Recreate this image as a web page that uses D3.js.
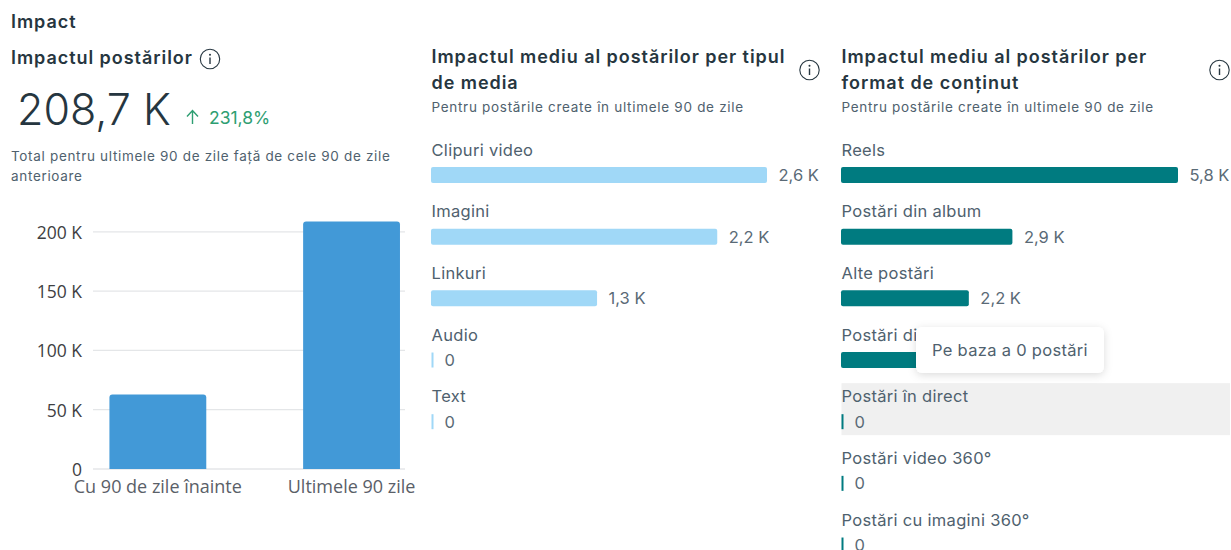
<!DOCTYPE html>
<html><head><meta charset="utf-8">
<script src="https://cdnjs.cloudflare.com/ajax/libs/d3/7.8.5/d3.min.js"></script>
<style>
html,body{margin:0;padding:0;background:#fff;overflow:hidden}
svg{display:block}
.t{font-family:Inter,"Noto Sans",sans-serif}
.o{font-family:"Open Sans","Noto Sans",sans-serif}
</style></head><body><svg id="c" width="1231" height="550"></svg>
<script>
const periodCats=["Cu 90 de zile înainte","Ultimele 90 zile"];
const periodVals=[62900,208700];
const yTicks=[0,50000,100000,150000,200000];
const yTickLabels=["0","50 K","100 K","150 K","200 K"];
const mediaCats=["Clipuri video","Imagini","Linkuri","Audio","Text"];
const mediaVals=[2600,2215,1285,0,0];
const mediaLabels=["2,6 K","2,2 K","1,3 K","0","0"];
const formatCats=["Reels","Postări din album","Alte postări","Postări din","Postări în direct","Postări video 360°","Postări cu imagini 360°"];
const formatVals=[5800,2950,2200,1500,0,0,0];
const formatLabels=["5,8 K","2,9 K","2,2 K",null,"0","0","0"];

const svg=d3.select("#c");
const ink="#263640", soft="#4f616e";
function txt(x,y,s,size,weight,fill,spacing){
  return svg.append("text").attr("x",x).attr("y",y).attr("class","t")
   .attr("font-size",size).attr("font-weight",weight||400).attr("fill",fill||ink)
   .attr("letter-spacing",spacing||0).text(s);
}
function info(cx,cy){
  const g=svg.append("g").attr("transform",`translate(${cx},${cy})`);
  g.append("circle").attr("r",9.7).attr("fill","none").attr("stroke",ink).attr("stroke-width",1.1);
  g.append("rect").attr("x",-.7).attr("y",-1.5).attr("width",1.4).attr("height",6.5).attr("fill",ink);
  g.append("circle").attr("cy",-4.2).attr("r",1).attr("fill",ink);
}
const titleSize=18, titleSp=.95;
txt(11,28,"Impact",titleSize,600,ink,titleSp);
txt(11,64,"Impactul postărilor",titleSize,600,ink,titleSp);
info(210,59);
txt(17,125,"208,7 K",43,300,ink);
svg.append("path").attr("d","M192.5 124V111M187 116.5L192.5 110.5L198 116.5").attr("fill","none").attr("stroke","#2e9e72").attr("stroke-width",1.4);
txt(209,124,"231,8%",17.5,400,"#2e9e72");
txt(11,161,"Total pentru ultimele 90 de zile față de cele 90 de zile",13.5,400,soft,.68);
txt(11,181,"anterioare",13.5,400,soft,.68);

// column chart
const y=d3.scaleLinear().domain([0,200000]).range([469,231.8]);
const x=d3.scaleBand().domain(periodCats).range([61,448.4]).paddingInner(.5).paddingOuter(.25);
svg.append("g").selectAll("line").data(yTicks).join("line")
 .attr("x1",93).attr("x2",405).attr("y1",d=>y(d)).attr("y2",d=>y(d))
 .attr("stroke","#e4e6e8").attr("stroke-width",1.3);
svg.append("g").selectAll("text").data(yTicks).join("text").attr("class","o")
 .attr("x",82).attr("y",d=>y(d)+7).attr("text-anchor","end").attr("font-size",17.5).attr("fill","#3e4042")
 .text((d,i)=>yTickLabels[i]);
svg.append("g").selectAll("path").data(periodCats).join("path").attr("fill","#4299d7")
 .attr("d",(c,i)=>{const x0=x(c),w=x.bandwidth(),t=y(periodVals[i]),b=y(0),r=3;
   return `M${x0} ${b}V${t+r}Q${x0} ${t} ${x0+r} ${t}H${x0+w-r}Q${x0+w} ${t} ${x0+w} ${t+r}V${b}Z`;});
svg.append("g").selectAll("text").data(periodCats).join("text").attr("class","o")
 .attr("x",c=>x(c)+x.bandwidth()/2).attr("y",493).attr("text-anchor","middle").attr("font-size",18).attr("fill","#5a6068")
 .text(c=>c);

// horizontal panels
function panel(left,lines,cats,vals,labels,color,maxVal,maxW,hl){
  txt(left,63,lines[0],titleSize,600,ink,titleSp);
  txt(left,89,lines[1],titleSize,600,ink,titleSp);
  txt(left,112,"Pentru postările create în ultimele 90 de zile",13.5,400,soft,.7);
  info(left+378,70);
  const sx=d3.scaleLinear().domain([0,maxVal]).range([0,maxW]);
  const row=d3.scaleBand().domain(cats).range([135,135+61.67*cats.length]);
  cats.forEach((c,i)=>{
    const t=row(c);
    if(hl===i) svg.append("rect").attr("x",left).attr("y",t+1.5).attr("width",1230-left).attr("height",52).attr("fill","#f0f0f0");
    txt(left,t+20.5,c,16.5,400,soft,.3);
    const w=sx(vals[i]);
    if(w>0) svg.append("rect").attr("x",left-.5).attr("y",t+32).attr("width",w).attr("height",16).attr("rx",2).attr("fill",color);
    else svg.append("rect").attr("x",left).attr("y",t+32.5).attr("width",2).attr("height",15).attr("fill",color);
    if(labels[i]!==null) txt(left+(w>0?w+11:13),t+46,labels[i],16.5,400,"#5a6a76");
  });
}
panel(431.5,["Impactul mediu al postărilor per tipul","de media"],mediaCats,mediaVals,mediaLabels,"#a0d8f7",2600,336);
panel(841.5,["Impactul mediu al postărilor per","format de conținut"],formatCats,formatVals,formatLabels,"#007b80",5800,337,4);

// tooltip
const f=svg.append("defs").append("filter").attr("id","sh").attr("x","-10%").attr("y","-30%").attr("width","120%").attr("height","170%");
f.append("feDropShadow").attr("dx",0).attr("dy",2).attr("stdDeviation",4).attr("flood-color","#000").attr("flood-opacity",.14);
svg.append("rect").attr("x",916).attr("y",327).attr("width",188).attr("height",46).attr("rx",6).attr("fill","#fff").attr("filter","url(#sh)");
txt(932,356,"Pe baza a 0 postări",16.5,400,soft,.3);
</script></body></html>
